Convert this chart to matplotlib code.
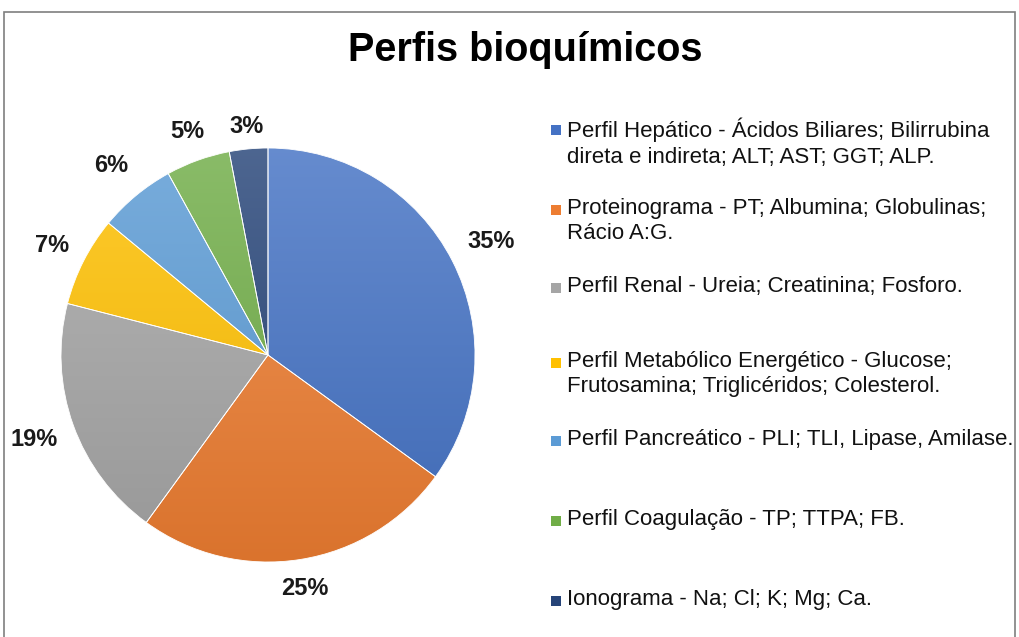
import numpy as np
import matplotlib
matplotlib.use("Agg")
import matplotlib.pyplot as plt
from matplotlib.colors import LinearSegmentedColormap, to_rgb
from matplotlib.patches import Rectangle

plt.rcParams['font.family'] = ['Liberation Sans', 'DejaVu Sans']

title = "Perfis bioquímicos"
categories = [
    "Perfil Hepático - Ácidos Biliares; Bilirrubina\ndireta e indireta; ALT; AST; GGT; ALP.",
    "Proteinograma - PT; Albumina; Globulinas;\nRácio A:G.",
    "Perfil Renal - Ureia; Creatinina; Fosforo.",
    "Perfil Metabólico Energético - Glucose;\nFrutosamina; Triglicéridos; Colesterol.",
    "Perfil Pancreático - PLI; TLI, Lipase, Amilase.",
    "Perfil Coagulação - TP; TTPA; FB.",
    "Ionograma - Na; Cl; K; Mg; Ca.",
]
values = [35, 25, 19, 7, 6, 5, 3]
colors = ["#4472C4", "#ED7D31", "#A5A5A5", "#FFC000", "#5B9BD5", "#70AD47", "#264478"]
# radial distance of each percentage label (Excel "best fit" placement)
label_dist = [1.21, 1.14, 1.2, 1.17, 1.19, 1.15, 1.11]


def mix(c, other, t):
    c = np.array(to_rgb(c))
    return tuple(c * (1 - t) + np.array(other) * t)


fig = plt.figure(figsize=(10.19, 6.37), dpi=100)

# outer frame of the chart area
fig.patches.append(Rectangle((4 / 1019, -0.1), 1011 / 1019, 1.1 - 12 / 637,
                             transform=fig.transFigure, fill=False,
                             edgecolor="#7f7f7f", linewidth=1.2))

fig.text(525 / 1019, 1 - 50 / 637, title, ha="center", va="center",
         fontsize=28.5, fontweight="bold")

ax = fig.add_axes([61 / 1019, 75 / 637, 414 / 1019, 414 / 637])
wedges, texts, autotexts = ax.pie(
    values, colors=colors, startangle=90, counterclock=False, radius=1,
    autopct="%1.0f%%", pctdistance=1.2,
    wedgeprops=dict(edgecolor="white", linewidth=0.6),
    textprops=dict(fontsize=17, fontweight="bold", color="#1a1a1a"))
ax.set_xlim(-1, 1)
ax.set_ylim(-1, 1)
ax.set_aspect("equal")

for w, t, d in zip(wedges, autotexts, label_dist):
    ang = np.deg2rad((w.theta1 + w.theta2) / 2)
    t.set_position((d * np.cos(ang), d * np.sin(ang)))

grad = np.linspace(0, 1, 256).reshape(-1, 1)
for w, c in zip(wedges, colors):
    cmap = LinearSegmentedColormap.from_list("g", [mix(c, (1, 1, 1), 0.18), mix(c, (0, 0, 0), 0.08)])
    im = ax.imshow(grad, extent=(-1, 1, -1, 1), origin="upper", cmap=cmap,
                   aspect="auto", zorder=0.5)
    im.set_clip_path(w)
    w.set_facecolor("none")
    w.set_zorder(1)

# legend drawn as square markers and text
ys = [130, 210, 288, 363, 441, 521, 601]
for y, label, c in zip(ys, categories, colors):
    fig.patches.append(Rectangle((551 / 1019, 1 - (y + 5) / 637), 10 / 1019, 10 / 637,
                                 transform=fig.transFigure, facecolor=c, edgecolor="none"))
    fig.text(567 / 1019, 1 - (y - 12) / 637, label, ha="left", va="top",
             fontsize=16, color="#111111", linespacing=1.25)

fig.savefig("out.png", dpi=100)
